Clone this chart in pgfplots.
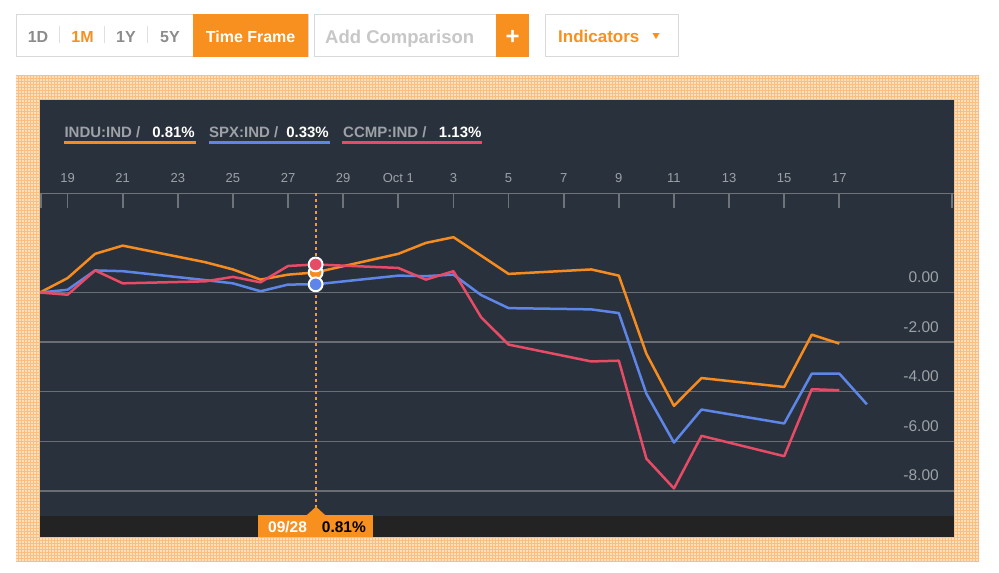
\documentclass[border=0pt]{standalone}
\usepackage{pgfplots}
\pgfplotsset{compat=1.18}
\usepackage{fontspec}
\setmainfont{Liberation Sans}
\usetikzlibrary{patterns}

\definecolor{indu}{HTML}{F68B1F}
\definecolor{spx}{HTML}{5E86E8}
\definecolor{ccmp}{HTML}{E84B66}
\definecolor{panel}{HTML}{29313C}
\definecolor{strip}{HTML}{232323}
\definecolor{gridc}{HTML}{6A6E73}
\definecolor{axisc}{HTML}{6E7379}
\definecolor{labc}{HTML}{9EA2A7}
\definecolor{dashc}{HTML}{EBA21C}
\definecolor{btn}{HTML}{F7901E}

% day index: 0 = Sep 18
\pgfplotstableread{
d  v
0  0
1  0.58
2  1.56
3  1.89
6  1.22
7  0.93
8  0.52
9  0.72
10 0.81
13 1.56
14 2.00
15 2.23
16 1.49
17 0.75
20 0.93
21 0.68
22 -2.47
23 -4.57
24 -3.45
27 -3.81
28 -1.70
29 -2.06
}\indu
\pgfplotstableread{
d  v
0  0
1  0.11
2  0.89
3  0.86
6  0.50
7  0.37
8  0.05
9  0.32
10 0.33
13 0.68
14 0.66
15 0.72
16 -0.10
17 -0.63
20 -0.68
21 -0.83
22 -4.08
23 -6.05
24 -4.72
27 -5.28
28 -3.27
29 -3.27
30 -4.51
}\spx
\pgfplotstableread{
d  v
0  0
1  -0.09
2  0.89
3  0.37
6  0.45
7  0.63
8  0.41
9  1.07
10 1.13
13 0.99
14 0.52
15 0.86
16 -0.99
17 -2.10
20 -2.78
21 -2.75
22 -6.70
23 -7.90
24 -5.78
27 -6.60
28 -3.90
29 -3.94
}\ccmp

\newcommand{\fs}[1]{\fontsize{#1}{#1}\selectfont}

\begin{document}
\begin{tikzpicture}[x=1pt,y=-1pt]
\useasboundingbox (0,0) rectangle (999,573);
\fill[white] (0,0) rectangle (999,573);

% top buttons
\draw[draw=black!15,fill=white,line width=1pt] (16.5,14) rectangle (308,56.7);
\foreach \sx in {59,104,147}{\draw[black!12,line width=1pt] (\sx,26) -- (\sx,43);}
\node[anchor=base,text=black!45,font=\bfseries\fs{16}] at (38,42.7) {1D};
\node[anchor=base,text=btn,font=\bfseries\fs{16}] at (82.6,42.7) {1M};
\node[anchor=base,text=black!45,font=\bfseries\fs{16}] at (126,42.7) {1Y};
\node[anchor=base,text=black!45,font=\bfseries\fs{16}] at (170,42.7) {5Y};
\fill[btn] (193.3,14) rectangle (308,56.7);
\node[anchor=base,text=white,font=\bfseries\fs{16}] at (250.6,42.7) {Time Frame};
\draw[draw=black!15,fill=white,line width=1pt] (314.7,14) rectangle (496.4,56.7);
\node[anchor=base west,inner sep=0,text=black!22,font=\bfseries\fs{18.5}] at (325,43.3) {Add Comparison};
\fill[btn] (496.4,14) rectangle (529,56.7);
\node[anchor=base,text=white,font=\bfseries\fs{24}] at (512.7,44) {+};
\draw[draw=black!15,fill=white,line width=1pt] (545.5,14) rectangle (678.6,56.7);
\node[anchor=base west,inner sep=0,text=btn,font=\bfseries\fs{17}] at (558,42.7) {Indicators};
\fill[btn] (652.5,33) -- (659.5,33) -- (656,39) -- cycle;

% hatched frame and dark panel
\fill[fill={rgb,255:red,253;green,224;blue,190}] (16,75.7) rectangle (979,561);
\fill[pattern=grid,pattern color={rgb,255:red,249;green,190;blue,128}] (16,75.7) rectangle (979,561);
\fill[panel] (40,100) rectangle (954,537.3);
\fill[strip] (40,515.7) rectangle (954,537.3);

% legend
\node[anchor=base west,inner sep=0,text=labc,font=\bfseries\fs{15}] at (64.3,137.3) {INDU:IND /};
\node[anchor=base east,inner sep=0,text=white,font=\bfseries\fs{15}] at (195,137.3) {0.81\%};
\draw[indu,line width=2.5pt] (64.3,142.3) -- (195.7,142.3);
\node[anchor=base west,inner sep=0,text=labc,font=\bfseries\fs{15}] at (209,137.3) {SPX:IND /};
\node[anchor=base east,inner sep=0,text=white,font=\bfseries\fs{15}] at (329,137.3) {0.33\%};
\draw[spx,line width=2.5pt] (209,142.3) -- (330,142.3);
\node[anchor=base west,inner sep=0,text=labc,font=\bfseries\fs{15}] at (343,137.3) {CCMP:IND /};
\node[anchor=base east,inner sep=0,text=white,font=\bfseries\fs{15}] at (481.7,137.3) {1.13\%};
\draw[ccmp,line width=2.5pt] (342,142.3) -- (482,142.3);

\coordinate (plotSW) at (40,515.7);
\begin{axis}[
    at={(plotSW)}, anchor=south west,
    scale only axis, width=914pt, height=322.4pt,
    xmin=0, xmax=33.16, ymin=-9, ymax=4,
    axis line style={draw=none},
    xtick={1,3,...,29},
    xticklabels={19,21,23,25,27,29,Oct 1,3,5,7,9,11,13,15,17},
    extra x ticks={0.05,33.1}, extra x tick labels={},
    xtick pos=right, xticklabel pos=right,
    tick align=inside, major tick length=14.4pt,
    tick style={draw=axisc,line width=1.8pt},
    xtick style={draw=axisc,line width=1.8pt},
    extra x tick style={tick style={draw=axisc,line width=1.8pt}},
    xticklabel style={anchor=base,yshift=11.3pt,text=labc,font=\fs{13}},
    ytick={0,-2,-4,-6,-8},
    yticklabels={0.00,-2.00,-4.00,-6.00,-8.00},
    yticklabel pos=right,
    ytick style={draw=none},
    yticklabel style={anchor=base east,xshift=-11.7pt,yshift=10pt,text=labc,font=\fs{15.5}},
    ymajorgrids, grid style={gridc,line width=1.5pt},
    every axis plot/.append style={line width=2.5pt, line join=round},
  ]
  \draw[axisc,line width=2pt] (rel axis cs:0,1) -- (rel axis cs:1,1);
  \addplot[draw=dashc,line width=2pt,dash pattern=on 3pt off 3pt,no marks] coordinates {(10,4) (10,-8.65)};
  \addplot[indu,no marks] table[x=d,y=v] {\indu};
  \addplot[spx,no marks] table[x=d,y=v] {\spx};
  \addplot[ccmp,no marks] table[x=d,y=v] {\ccmp};
  \addplot[only marks,mark=*,mark size=6.9pt,mark options={fill=indu,draw=white,line width=2pt}] coordinates {(10,0.81)};
  \addplot[only marks,mark=*,mark size=6.9pt,mark options={fill=ccmp,draw=white,line width=2pt}] coordinates {(10,1.13)};
  \addplot[only marks,mark=*,mark size=6.9pt,mark options={fill=spx,draw=white,line width=2pt}] coordinates {(10,0.33)};
\end{axis}

% date tooltip
\fill[btn] (257.7,515) rectangle (373.3,537.3);
\fill[btn] (306.7,515.2) -- (316,506.7) -- (325.3,515.2) -- cycle;
\node[anchor=base west,inner sep=0,text=white,font=\bfseries\fs{15.5}] at (268,532.7) {09/28};
\node[anchor=base west,inner sep=0,text=black,font=\bfseries\fs{15.5}] at (321.7,532.7) {0.81\%};
\end{tikzpicture}
\end{document}
